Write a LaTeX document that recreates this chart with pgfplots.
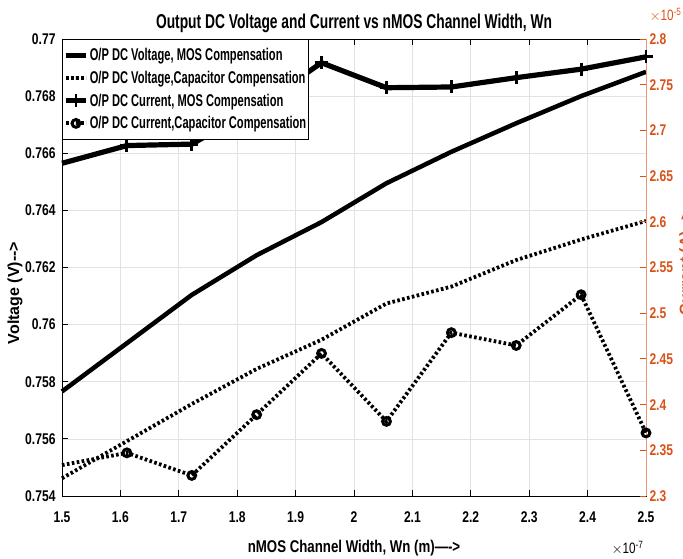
\documentclass[border=0pt]{standalone}
\usepackage{pgfplots}
\pgfplotsset{compat=1.18}
\usepackage{fontspec}
\setmainfont{Liberation Sans}[FakeStretch=0.78]
\newfontfamily\legfam{Liberation Sans}[FakeStretch=0.655]
\newfontfamily\titlefam{Liberation Sans}[FakeStretch=0.69]
\newfontfamily\rotfam{Liberation Sans}

\definecolor{rax}{RGB}{217,83,25}
\definecolor{gridc}{RGB}{226,226,226}

% Wn sweep (x 1e-7 m)
\pgfplotstableread{
wn      vmos     vcap     imos    icap
1.5000  0.75766  0.75462  2.6640  2.3338
1.6111  0.75935  0.75592  2.6834  2.3472
1.7222  0.76104  0.75722  2.6850  2.3225
1.8333  0.76243  0.75845  2.7250  2.3890
1.9444  0.76359  0.75947  2.7740  2.4560
2.0556  0.76495  0.76074  2.7467  2.3816
2.1667  0.76605  0.76133  2.7475  2.4787
2.2778  0.76705  0.76226  2.7577  2.4647
2.3889  0.76800  0.76298  2.7670  2.5202
2.5000  0.76885  0.76363  2.7805  2.3690
}\sweep

\newcommand\tickfont{\fontsize{15.5bp}{15.5bp}\selectfont\bfseries}
\newcommand\legfont{\legfam\fontsize{17bp}{17bp}\selectfont\bfseries}

\pgfplotsset{
  common/.style={
    scale only axis, width=584bp, height=457bp,
    xmin=1.5, xmax=2.5,
    tick align=inside, major tick length=6bp,
    ticklabel style={font=\tickfont},
    clip=false,
  },
  vsolid/.style={black, line width=4.5bp, line join=round},
  vdot/.style={black, line width=3.8bp, dash pattern=on 2.6bp off 2.4bp},
  imosline/.style={black, line width=5.2bp, line join=round, mark=+,
    mark size=6.5bp, mark options={solid, line width=2.8bp}},
  icapline/.style={black, line width=3.8bp, dash pattern=on 2.6bp off 2.4bp,
    mark=o, mark size=3.9bp, mark options={solid, fill=white, line width=3bp}},
}

\begin{document}
\begin{tikzpicture}
% left axis: voltages
\begin{axis}[common,
  ymin=0.754, ymax=0.77,
  xtick={1.5,1.6,1.7,1.8,1.9,2,2.1,2.2,2.3,2.4,2.5},
  xticklabels={1.5,1.6,1.7,1.8,1.9,2,2.1,2.2,2.3,2.4,2.5},
  ytick={0.754,0.756,0.758,0.76,0.762,0.764,0.766,0.768,0.77},
  yticklabels={0.754,0.756,0.758,0.76,0.762,0.764,0.766,0.768,0.77},
  xtick pos=both, ytick pos=left,
  xticklabel style={anchor=north, yshift=-12bp},
  yticklabel style={xshift=-3bp},
  grid=major, major grid style={gridc, line width=0.7bp},
  axis line style={black, line width=0.8bp},
  tick style={black, line width=0.8bp},
]
\addplot[vsolid] table[x=wn, y=vmos] {\sweep};
\addplot[vdot] table[x=wn, y=vcap] {\sweep};
\end{axis}

% right axis: currents (x 1e-5 A)
\begin{axis}[common,
  ymin=2.3, ymax=2.8,
  axis x line=none, axis y line*=right,
  ytick={2.3,2.35,2.4,2.45,2.5,2.55,2.6,2.65,2.7,2.75,2.8},
  yticklabels={2.3,2.35,2.4,2.45,2.5,2.55,2.6,2.65,2.7,2.75,2.8},
  y axis line style={rax!60, line width=0.8bp},
  ytick style={rax, line width=0.8bp},
  yticklabel style={text=rax},
  legend cell align=left,
  legend style={at={(0,1)}, anchor=north west,
    draw=black, line width=0.7bp, fill=white,
    font=\legfont, row sep=4.9bp, inner xsep=1bp, inner ysep=7bp,
    nodes={inner xsep=1.2bp, inner ysep=2bp}},
  legend image code/.code={%
    \draw[mark repeat=2, mark phase=2, #1]
      plot coordinates {(0bp,0bp) (10bp,0bp) (20bp,0bp)};},
]
\addplot[imosline, mark indices={2,3,4,5,6,7,8,9,10}, forget plot]
  table[x=wn, y=imos] {\sweep};
\addplot[icapline, mark indices={2,3,4,5,6,7,8,9,10}, forget plot]
  table[x=wn, y=icap] {\sweep};

\addlegendimage{vsolid}
\addlegendentry{O/P DC Voltage, MOS Compensation}
\addlegendimage{vdot}
\addlegendentry{O/P DC Voltage,Capacitor Compensation}
\addlegendimage{imosline}
\addlegendentry{O/P DC Current, MOS Compensation}
\addlegendimage{icapline}
\addlegendentry{O/P DC Current,Capacitor Compensation}
\end{axis}

% titles and labels
\node[font=\titlefam\fontsize{20bp}{20bp}\selectfont\bfseries, anchor=base]
  at (292bp,467bp) {Output DC Voltage and Current vs nMOS Channel Width, Wn};
\node[font=\fontsize{17bp}{17bp}\selectfont\bfseries] at (292bp,-52bp)
  {nMOS Channel Width, Wn (m)---->};
\node[font=\fontsize{15bp}{15bp}\selectfont, anchor=east] at (585bp,-52bp)
  {$\times$10\textsuperscript{-7}};
\node[font=\fontsize{15bp}{15bp}\selectfont, text=rax, anchor=west] at (584bp,481bp)
  {$\times$10\textsuperscript{-5}};
\node[font=\rotfam\fontsize{16bp}{16bp}\selectfont\bfseries, rotate=90]
  at (-47bp,203bp) {Voltage (V)-->};
\node[font=\rotfam\fontsize{16bp}{16bp}\selectfont\bfseries, text=rax, rotate=90,
  anchor=north, inner sep=0pt] at (617bp,233bp) {Current (A)-->};

\pgfresetboundingbox
\useasboundingbox (-62bp,-63bp) rectangle (621bp,496bp);
\end{tikzpicture}
\end{document}
